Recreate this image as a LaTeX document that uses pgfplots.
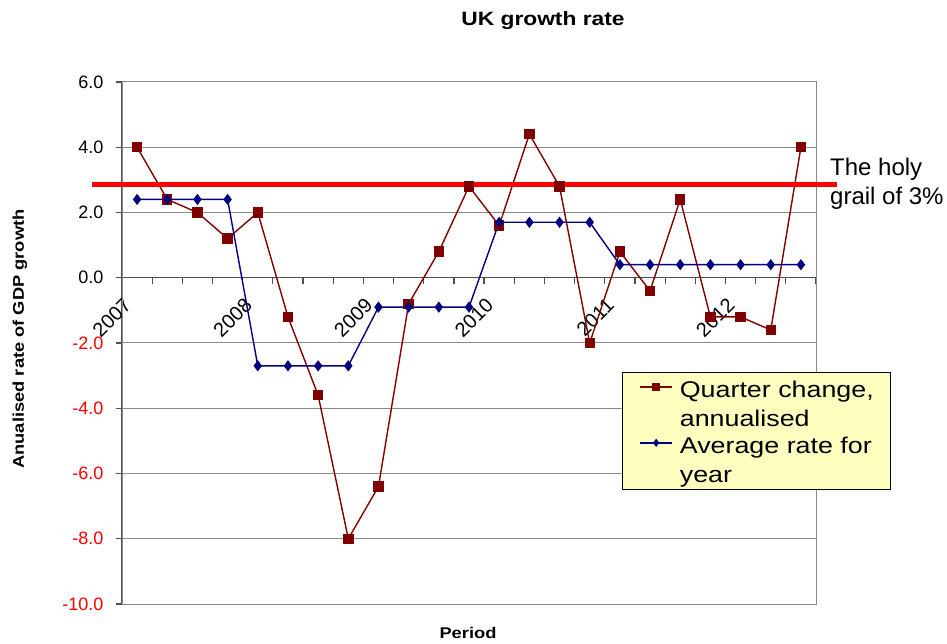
\documentclass[border=0pt]{standalone}
\usepackage{pgfplots}
\pgfplotsset{compat=1.18}
\usepackage{fontspec}
\setmainfont{Liberation Sans}
\newfontfamily\widefont[FakeStretch=1.18]{Liberation Sans}
\definecolor{qred}{HTML}{800000}
\definecolor{navy}{HTML}{000080}
\definecolor{legfill}{HTML}{FFFFC0}
\definecolor{gridgray}{HTML}{8C8C8C}
\definecolor{axgray}{HTML}{505050}

\pgfplotstableread{
x q a
0 4.0 2.4
1 2.4 2.4
2 2.0 2.4
3 1.2 2.4
4 2.0 -2.7
5 -1.2 -2.7
6 -3.6 -2.7
7 -8.0 -2.7
8 -6.4 -0.9
9 -0.8 -0.9
10 0.8 -0.9
11 2.8 -0.9
12 1.6 1.7
13 4.4 1.7
14 2.8 1.7
15 -2.0 1.7
16 0.8 0.4
17 -0.4 0.4
18 2.4 0.4
19 -1.2 0.4
20 -1.2 0.4
21 -1.6 0.4
22 4.0 0.4
}\gdp

\begin{document}
\begin{tikzpicture}[x=1pt,y=1pt]
\useasboundingbox (0,0) rectangle (947,643);
\begin{axis}[
  at={(122pt,39pt)}, anchor=south west,
  scale only axis, width=694pt, height=522pt,
  xmin=-0.5, xmax=22.5, ymin=-10, ymax=6,
  clip=false,
  axis x line=middle, axis y line=left,
  axis line style={-, draw=axgray, line width=1.3pt},
  tick align=outside,
  major tick length=6pt,
  tick style={axgray, line width=1.2pt},
  xtick={-0.5,0.5,...,22.5},
  xticklabels={},
  extra x ticks={0,4,8,12,16,20},
  extra x tick labels={2007,2008,2009,2010,2011,2012},
  extra x tick style={major tick length=0pt,
    tick label style={font=\fontsize{20}{24}\selectfont, xshift=-7pt, yshift=-22pt, rotate=45, anchor=east}},
  ytick={-10,-8,...,6},
  yticklabels={\textcolor{red}{-10.0},\textcolor{red}{-8.0},\textcolor{red}{-6.0},\textcolor{red}{-4.0},\textcolor{red}{-2.0},0.0,2.0,4.0,6.0},
  ymajorgrids,
  grid style={gridgray, line width=1pt},
  ticklabel style={font=\fontsize{18}{21.6}\selectfont},
  yticklabel style={xshift=-9pt},
  legend style={at={(rel axis cs:0.7205,0.444)}, anchor=north west,
    fill=legfill, draw=black, line width=0.8pt,
    font=\widefont\fontsize{22.75}{29}\selectfont,
    nodes={align=left, inner sep=0pt},
    inner xsep=17pt, inner ysep=5pt, row sep=5pt, column sep=7pt},
  legend cell align=left,
  legend image code/.code={%
    \path[draw=none,fill=none] (0pt,-19pt) (32pt,-19pt);
    \draw[mark repeat=2,mark phase=2,#1, mark size=3pt] plot coordinates {(0pt,16pt) (16pt,16pt) (32pt,16pt)};},
]
\draw[gridgray, line width=1pt] (rel axis cs:0,0) rectangle (rel axis cs:1,1);
\addplot[qred, line width=1.4pt, mark=square*, mark size=4.5pt, mark options={solid}] table[x=x,y=q] {\gdp};
\addlegendentry{\strut Quarter change,\\\strut annualised}
\addplot[navy, line width=1.4pt, mark=diamond*, mark size=4.5pt] table[x=x,y=a] {\gdp};
\addlegendentry{\strut Average rate for\\\strut year}
\addplot[red, line width=4.2pt, forget plot] coordinates {(-1.494,2.86) (23.2,2.86)};
\end{axis}
\node[font=\widefont\bfseries\fontsize{19.3}{23}\selectfont] at (543,622) {UK growth rate};
\node[font=\widefont\bfseries\fontsize{15.5}{18.6}\selectfont] at (468,10) {Period};
\node[font=\widefont\bfseries\fontsize{15.5}{18.6}\selectfont, rotate=90] at (20,304) {Anualised rate of GDP growth};
\node[font=\fontsize{24}{29}\selectfont, anchor=base west, inner sep=0pt] at (830,467) {The holy};
\node[font=\fontsize{24}{29}\selectfont, anchor=base west, inner sep=0pt] at (830,438) {grail of 3\%};
\end{tikzpicture}
\end{document}
